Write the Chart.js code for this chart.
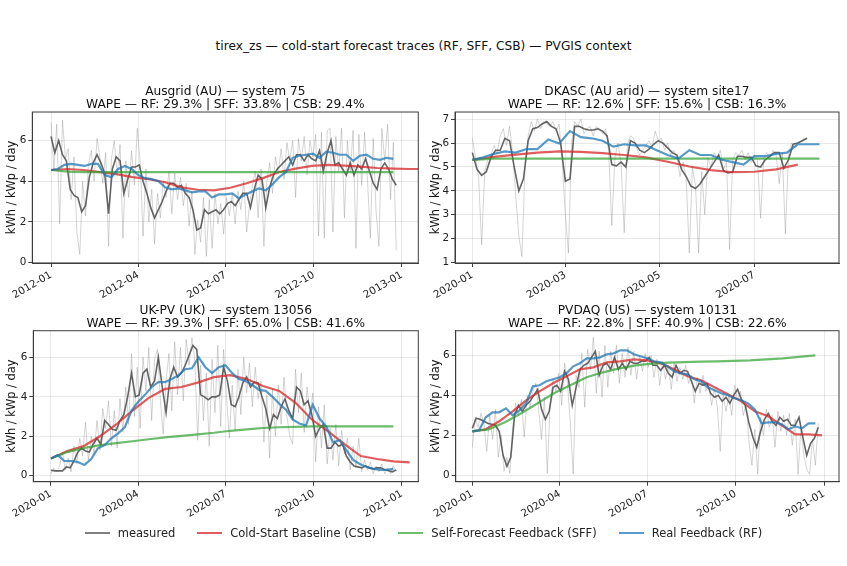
<!DOCTYPE html>
<html>
<head>
<meta charset="utf-8">
<script src="https://cdn.jsdelivr.net/npm/chart.js@4.4.1/dist/chart.umd.min.js"></script>
<style>
  body { margin: 0; background: #fff; font-family: "DejaVu Sans", sans-serif; }
  #page { position: relative; width: 847px; height: 566px; overflow: hidden; }
  canvas { position: absolute; }
  #suptitle { position: absolute; left: 0; top: 39px; width: 847px; text-align: center; font-size: 12.2px; line-height: 14px; color: #111; }
  #legend { position: absolute; left: 0; top: 526px; width: 847px; display: flex; justify-content: center; font-size: 11.5px; line-height: 14px; color: #222; }
  .item { display: flex; align-items: center; margin: 0 11px; }
  .swatch { width: 25px; height: 2px; margin-right: 8px; }
</style>
</head>
<body>
<div id="page">
  <div id="suptitle">tirex_zs — cold-start forecast traces (RF, SFF, CSB) — PVGIS context</div>
  <canvas id="p1" width="424" height="222" style="left:0;top:78px"></canvas>
  <canvas id="p2" width="423" height="222" style="left:424px;top:78px"></canvas>
  <canvas id="p3" width="424" height="229" style="left:0;top:296px"></canvas>
  <canvas id="p4" width="423" height="229" style="left:424px;top:296px"></canvas>
  <div id="legend">
    <div class="item"><span class="swatch" style="background:#7f7f7f"></span>measured</div>
    <div class="item"><span class="swatch" style="background:#e05c5c"></span>Cold-Start Baseline (CSB)</div>
    <div class="item"><span class="swatch" style="background:#6cbd6c"></span>Self-Forecast Feedback (SFF)</div>
    <div class="item"><span class="swatch" style="background:#5a99c9"></span>Real Feedback (RF)</div>
  </div>
</div>
<script>
// x values are days since the first tick (Jan 1); each array is sampled at a fixed day step

// --- Ausgrid (AU), 2012 ---
const ausgridTickDays = [0, 91, 182, 274, 366];
const ausgridTickLabels = ['2012-01', '2012-04', '2012-07', '2012-10', '2013-01'];
const ausgridRaw = [ // every 3 days
  6.9, 4.6, 6.8, 1.9, 7.0, 5.1, 5.6, 3.1, 5.2, 1.5,
  0.4, 4.0, 2.3, 4.8, 5.5, 4.0, 6.1, 5.2, 3.9, 5.4,
  0.8, 5.1, 6.0, 4.3, 5.8, 1.2, 5.0, 3.2, 5.5, 3.8,
  6.6, 4.9, 1.3, 4.6, 2.0, 3.6, 0.9, 3.4, 2.2, 4.0,
  3.2, 4.5, 2.4, 4.4, 3.1, 4.2, 2.8, 3.9, 1.8, 3.5,
  0.4, 2.1, 1.0, 3.2, 0.3, 3.1, 0.7, 3.4, 1.9, 2.9,
  1.4, 3.2, 2.3, 3.4, 1.9, 3.5, 2.6, 4.0, 1.5, 2.8,
  3.8, 4.5, 2.2, 4.6, 0.8, 3.9, 4.9, 3.4, 5.2, 4.4,
  5.6, 4.1, 5.9, 5.0, 6.0, 3.2, 6.1, 5.0, 6.2, 4.3,
  6.0, 5.2, 6.3, 1.3, 6.4, 1.2, 6.5, 6.6, 1.5, 6.2,
  4.5, 6.6, 2.2, 6.0, 4.4, 6.5, 0.7, 6.3, 3.8, 6.4,
  4.1, 1.2, 6.1, 2.5, 0.8, 6.6, 5.0, 6.8, 3.1, 5.9,
  0.6
];
const ausgridMeasured = [ // every 4 days
  6.2, 5.4, 6.0, 5.3, 5.0, 3.6, 3.3, 3.2, 2.5, 2.8,
  4.2, 4.9, 5.3, 4.9, 4.4, 2.4, 4.6, 5.2, 5.0, 3.4,
  4.1, 4.7, 4.7, 4.8, 4.0, 3.4, 2.7, 2.2, 2.6, 3.0,
  3.5, 3.9, 3.9, 3.7, 3.8, 3.4, 3.2, 2.6, 1.6, 1.7,
  2.6, 2.4, 2.5, 2.6, 2.4, 2.6, 2.9, 3.0, 2.8, 3.1,
  3.4, 3.4, 2.7, 3.6, 4.3, 4.1, 2.7, 3.7, 4.3, 4.6,
  4.8, 5.0, 5.2, 4.8, 5.3, 5.3, 5.0, 5.3, 5.1, 5.0,
  5.5, 4.5, 5.4, 6.0, 4.8, 4.9, 4.6, 4.3, 4.9, 4.3,
  4.8, 4.6, 5.1, 4.5, 3.9, 3.6, 4.6, 4.9, 4.6, 4.1,
  3.8
];
const ausgridRF = [ // every 7 days
  4.55, 4.6, 4.8, 4.85, 4.8, 4.75, 4.85, 4.85, 4.3, 4.2,
  4.6, 4.75, 4.6, 4.3, 4.15, 4.1, 4.0, 3.7, 3.6, 3.65,
  3.55, 3.45, 3.5, 3.5, 3.2, 3.35, 3.35, 3.4, 3.15, 3.35,
  3.5, 3.65, 3.55, 3.85, 4.2, 4.45, 5.15, 5.25, 5.3, 5.35,
  5.15, 5.45, 5.4, 5.3, 5.3, 5.0, 5.25, 5.3, 5.1, 5.05,
  5.15, 5.1
];
const ausgridCSB = [ // every 17 days
  4.55, 4.6, 4.55, 4.45, 4.35, 4.2, 4.1, 3.95, 3.7, 3.58,
  3.55, 3.68, 3.9, 4.15, 4.45, 4.62, 4.75, 4.8, 4.77, 4.72,
  4.65, 4.62, 4.6, 4.6
];
const ausgridSFF = [ // every 17 days
  4.55, 4.47, 4.45, 4.45, 4.45, 4.45, 4.45, 4.45, 4.45, 4.45,
  4.45, 4.45, 4.45, 4.45, 4.45, 4.45, 4.45, 4.45, 4.45, 4.45,
  4.45, 4.45
];

// --- DKASC (AU arid), 2020 ---
const dkascTickDays = [0, 60, 121, 182];
const dkascTickLabels = ['2020-01', '2020-03', '2020-05', '2020-07'];
const dkascRaw = [ // every 2 days
  6.2, 5.4, 4.6, 1.75, 4.8, 5.3, 5.5, 5.9, 5.6, 6.3,
  6.6, 5.9, 6.7, 5.6, 3.8, 2.1, 1.25, 5.0, 6.3, 6.9,
  6.5, 7.0, 6.6, 6.9, 6.8, 6.7, 6.9, 6.5, 6.8, 5.2,
  3.0, 1.4, 6.0, 6.9, 6.7, 7.0, 6.4, 6.6, 6.7, 6.3,
  6.7, 6.6, 6.4, 6.6, 5.6, 2.55, 5.4, 6.0, 5.1, 2.25,
  5.9, 6.3, 6.2, 5.8, 5.5, 5.7, 5.9, 6.1, 5.8, 6.5,
  6.1, 6.2, 5.7, 6.0, 5.5, 5.7, 5.4, 4.6, 5.2, 4.5,
  1.4, 5.0, 4.2, 1.4, 4.8, 3.0, 5.4, 5.0, 5.6, 5.4,
  5.7, 4.9, 5.2, 1.55, 5.3, 5.6, 5.5, 5.7, 5.3, 5.6,
  5.2, 5.5, 5.3, 2.85, 5.4, 5.6, 5.3, 5.7, 5.5, 4.3,
  5.6, 2.2, 5.5, 6.0, 5.8, 6.0, 6.1, 6.2, 6.2
];
const dkascMeasured = [ // every 3 days
  5.6, 4.9, 4.65, 4.8, 5.4, 5.7, 5.7, 6.2, 6.1, 5.0,
  4.0, 4.5, 6.1, 6.6, 6.65, 6.8, 6.9, 6.7, 6.6, 6.0,
  4.4, 4.5, 6.7, 6.7, 6.6, 6.55, 6.55, 6.6, 6.5, 6.3,
  5.1, 5.05, 5.2, 5.0, 6.1, 6.0, 5.7, 5.6, 5.75, 5.95,
  6.1, 6.0, 5.8, 5.6, 5.5, 4.9, 4.6, 4.2, 4.1, 4.3,
  4.6, 4.9, 5.2, 5.5, 4.85, 4.75, 4.8, 5.45, 5.45, 5.4,
  5.4, 5.05, 5.0, 5.3, 5.45, 5.6, 5.6, 4.95, 5.3, 5.95,
  6.0, 6.1, 6.2
];
const dkascRF = [ // every 7 days
  5.3, 5.4, 5.55, 5.65, 5.6, 5.75, 5.75, 6.15, 5.98, 6.5,
  6.25, 6.2, 6.1, 5.85, 5.95, 5.9, 5.9, 5.7, 5.5, 5.35,
  5.7, 5.5, 5.5, 5.3, 5.2, 5.1, 5.45, 5.45, 5.55, 5.6,
  5.95, 5.95, 5.95
];
const dkascCSB = [ // every 14 days
  5.3, 5.42, 5.52, 5.6, 5.65, 5.63, 5.58, 5.5, 5.4, 5.22,
  5.02, 4.87, 4.78, 4.8, 4.9, 5.1
];
const dkascSFF = [ // every 14 days
  5.3, 5.35, 5.35, 5.35, 5.35, 5.35, 5.35, 5.35, 5.35, 5.35,
  5.35, 5.35, 5.35, 5.35, 5.35, 5.35, 5.35
];

// --- UK-PV (UK), 2020 ---
const ukTickDays = [0, 91, 182, 274, 366];
const ukTickLabels = ['2020-01', '2020-04', '2020-07', '2020-10', '2021-01'];
const ukRaw = [ // every 3 days
  0.1, 0.4, 0.2, 0.5, 1.2, 0.3, 0.9, 0.2, 1.5, 0.6,
  1.9, 1.0, 2.7, 0.8, 2.0, 1.1, 2.8, 1.3, 3.4, 2.4,
  3.8, 1.5, 3.3, 1.4, 3.9, 2.2, 4.5, 2.6, 6.2, 3.0,
  5.5, 2.4, 6.0, 4.3, 6.5, 2.8, 5.9, 6.4, 3.9, 2.1,
  4.8, 6.2, 3.3, 6.8, 4.1, 6.5, 3.8, 6.9, 5.6, 7.0,
  5.8, 1.8, 5.6, 2.8, 5.2, 1.5, 5.9, 3.2, 6.6, 2.5,
  6.4, 4.0, 1.9, 4.6, 2.3, 5.4, 3.1, 6.0, 4.2, 5.7,
  3.5, 5.5, 3.9, 4.8, 1.7, 4.1, 0.9, 4.4, 2.0, 4.6,
  2.6, 5.0, 3.0, 2.0, 1.6, 5.4, 3.2, 5.2, 2.2, 4.5,
  3.0, 4.2, 0.7, 3.5, 1.4, 3.6, 0.6, 2.4, 0.8, 2.6,
  0.5, 2.3, 1.1, 1.9, 0.3, 1.5, 0.4, 1.9, 0.2, 0.8,
  0.3, 0.7, 0.1, 0.5, 0.2, 0.6, 0.1, 0.4, 0.1, 0.5,
  0.2
];
const ukMeasured = [ // every 4 days
  0.28, 0.25, 0.25, 0.25, 0.45, 0.4, 0.75, 1.2, 1.4, 1.25,
  1.2, 1.6, 1.9, 1.6, 2.8, 2.6, 2.35, 2.3, 2.8, 3.1,
  4.0, 5.2, 4.0, 4.1, 5.2, 5.4, 4.5, 4.8, 6.0, 4.5,
  3.2, 4.9, 5.5, 5.0, 5.2, 5.6, 6.1, 6.6, 6.4, 4.1,
  4.0, 3.85, 4.0, 4.0, 4.1, 5.5, 4.8, 3.6, 3.5, 4.0,
  4.7, 5.0, 4.5, 4.75, 4.7, 4.0, 3.4, 2.4, 3.1, 2.9,
  3.5, 3.9, 3.3, 2.9, 4.5, 4.3, 3.6, 3.8, 3.1, 2.0,
  2.4, 2.6, 1.4, 1.4, 1.7, 1.5, 1.6, 1.0, 0.7, 0.5,
  0.45, 0.4, 0.5, 0.4, 0.35, 0.4, 0.4, 0.3, 0.25, 0.2,
  0.3
];
const ukRF = [ // every 7 days
  0.88, 1.05, 0.75, 0.75, 0.7, 0.55, 0.85, 1.4, 1.55, 1.9,
  2.15, 2.45, 3.3, 3.75, 4.1, 4.5, 4.75, 4.75, 4.9, 5.1,
  5.4, 5.45, 6.0, 5.5, 5.2, 5.5, 5.6, 5.2, 4.9, 4.8,
  4.6, 4.35, 4.3, 4.0, 3.65, 3.35, 2.85, 2.65, 2.55, 3.6,
  2.9, 2.5, 1.7, 1.8, 1.3, 0.8, 0.6, 0.45, 0.35, 0.3,
  0.3, 0.35
];
const ukCSB = [ // every 17 days
  0.88, 1.25, 1.5, 2.0, 2.6, 3.3, 3.95, 4.4, 4.5, 4.72,
  5.0, 5.1, 4.9, 4.55, 4.3, 3.7, 2.85, 2.25, 1.6, 1.0,
  0.85, 0.73, 0.68
];
const ukSFF = [ // every 17 days
  0.88, 1.2, 1.4, 1.55, 1.65, 1.75, 1.85, 1.95, 2.02, 2.1,
  2.18, 2.28, 2.35, 2.42, 2.46, 2.48, 2.5, 2.5, 2.5, 2.5,
  2.5, 2.5
];

// --- PVDAQ (US), 2020 ---
const pvdaqTickDays = [0, 91, 182, 274, 366];
const pvdaqTickLabels = ['2020-01', '2020-04', '2020-07', '2020-10', '2021-01'];
const pvdaqRaw = [ // every 3 days
  1.4, 2.9, 2.4, 3.1, 2.6, 1.2, 3.0, 1.8, 3.3, 0.9,
  2.0, 0.2, 0.9, 0.1, 2.4, 3.6, 3.0, 3.8, 1.9, 4.0,
  3.4, 4.2, 4.6, 3.3, 1.8, 3.9, 0.1, 3.6, 4.8, 4.2,
  5.1, 3.5, 5.6, 4.6, 2.6, 0.05, 5.0, 4.4, 6.1, 3.4,
  6.3, 5.3, 6.9, 4.1, 6.2, 3.9, 6.5, 4.4, 6.2, 5.1,
  6.5, 4.6, 6.1, 4.9, 6.4, 5.0, 6.2, 4.8, 6.0, 5.2,
  6.1, 5.4, 6.0, 4.9, 5.8, 4.5, 5.7, 4.8, 5.5, 4.3,
  5.6, 4.7, 5.4, 4.8, 5.5, 4.6, 5.0, 3.6, 4.9, 4.1,
  5.0, 4.2, 4.6, 3.5, 4.3, 3.4, 1.2, 4.1, 3.2, 4.0,
  3.0, 4.5, 3.8, 4.2, 3.0, 3.6, 1.6, 0.5, 2.3, 0.05,
  2.9, 2.0, 3.3, 2.4, 3.0, 1.4, 3.2, 2.2, 3.0, 2.0,
  3.1, 1.5, 2.8, 0.05, 2.4, 1.0, 0.3, 0.05, 1.8, 0.5,
  2.6
];
const pvdaqMeasured = [ // every 4 days
  2.35, 2.85, 2.8, 2.7, 2.6, 2.55, 2.5, 2.2, 1.0, 0.45,
  0.9, 3.0, 3.5, 3.2, 3.5, 3.7, 4.0, 4.3, 3.3, 2.8,
  3.2, 4.4, 4.5, 4.2, 5.2, 4.8, 3.5, 4.4, 5.3, 5.5,
  5.6, 5.9, 6.2, 5.0, 5.5, 5.6, 5.3, 5.9, 5.3, 5.6,
  5.3, 5.7, 5.6, 5.6, 5.7, 5.7, 5.9, 5.5, 5.5, 5.25,
  5.5, 5.1, 4.9, 5.5, 5.1, 5.25, 5.2, 4.7, 4.2, 4.6,
  4.5, 4.6, 4.1, 3.9, 4.0, 3.7, 3.9, 3.6, 4.0, 4.3,
  3.8, 3.5, 2.6, 1.9, 1.4, 2.2, 2.8, 3.1, 2.7, 2.5,
  2.9, 2.7, 2.8, 2.5, 2.5, 2.9, 1.9, 1.0, 1.6, 1.85,
  2.4
];
const pvdaqRF = [ // every 7 days
  2.2, 2.25, 2.9, 3.15, 3.15, 3.35, 3.0, 3.25, 3.6, 4.45,
  4.5, 4.7, 4.8, 4.9, 5.1, 5.45, 5.6, 5.85, 5.85, 5.9,
  6.05, 6.1, 6.25, 6.25, 6.05, 5.95, 5.85, 5.7, 5.65, 5.45,
  5.2, 5.1, 5.05, 4.8, 4.7, 4.4, 4.25, 4.1, 4.0, 3.85,
  3.75, 3.6, 3.3, 2.6, 2.65, 2.65, 2.55, 2.3, 2.45, 2.35,
  2.6, 2.6
];
const pvdaqCSB = [ // every 14 days
  2.2, 2.3, 2.7, 3.2, 3.75, 4.2, 4.6, 4.95, 5.3, 5.4,
  5.65, 5.7, 5.8, 5.75, 5.6, 5.3, 4.95, 4.75, 4.4, 4.05,
  3.7, 3.2, 2.95, 2.5, 2.05, 2.05, 2.0
];
const pvdaqSFF = [ // every 17 days
  2.2, 2.3, 2.65, 3.1, 3.6, 4.1, 4.5, 4.9, 5.15, 5.35,
  5.5, 5.58, 5.63, 5.66, 5.68, 5.7, 5.72, 5.75, 5.8, 5.85,
  5.92, 6.0
];

const FONT = '"DejaVu Sans", sans-serif';

function pts(values, step) {
  return values.map((v, i) => ({ x: i * step, y: v }));
}

// matplotlib-style box around the axes
const framePlugin = {
  id: 'frame',
  afterDatasetsDraw(chart) {
    const { ctx, chartArea: a } = chart;
    ctx.save();
    ctx.strokeStyle = '#3c3c3c';
    ctx.lineWidth = 1;
    ctx.strokeRect(a.left, a.top, a.right - a.left, a.bottom - a.top);
    ctx.restore();
  }
};

function makePanel(id, p) {
  const line = (label, data, color, width, order) =>
    ({ label, data, borderColor: color, borderWidth: width, order, pointRadius: 0, tension: 0, fill: false });

  return new Chart(document.getElementById(id), {
    type: 'line',
    data: {
      datasets: [
        line('measured (daily)', pts(p.raw, p.rawStep), 'rgba(140,140,140,0.42)', 0.9, 5),
        line('measured', pts(p.measured, p.measuredStep), 'rgba(75,75,75,0.85)', 1.6, 4),
        line('Cold-Start Baseline (CSB)', pts(p.csb, p.csbStep), 'rgba(214,39,40,0.75)', 2.2, 3),
        line('Self-Forecast Feedback (SFF)', pts(p.sff, p.sffStep), 'rgba(44,160,44,0.7)', 2.2, 2),
        line('Real Feedback (RF)', pts(p.rf, p.rfStep), 'rgba(31,119,180,0.75)', 2.2, 1)
      ]
    },
    options: {
      responsive: false,
      animation: false,
      devicePixelRatio: 1,
      layout: { padding: { left: 0, right: p.padRight, top: 0, bottom: 0 } },
      plugins: {
        legend: { display: false },
        tooltip: { enabled: false },
        title: {
          display: true,
          fullSize: false,
          text: p.title,
          color: '#111',
          font: { family: FONT, size: 12.2, weight: 'normal', lineHeight: 1.05 },
          padding: { top: p.titleTop, bottom: 0.5 }
        }
      },
      scales: {
        x: {
          type: 'linear',
          min: p.xMin,
          max: p.xMax,
          afterBuildTicks: s => { s.ticks = p.tickDays.map(v => ({ value: v })); },
          afterFit: s => { s.height = p.xHeight; },
          ticks: {
            autoSkip: false,
            minRotation: 30,
            maxRotation: 30,
            padding: 2,
            color: '#222',
            font: { family: FONT, size: 10.4 },
            callback: (v, i) => p.tickLabels[i]
          },
          grid: { color: 'rgba(0,0,0,0.09)', tickColor: '#3c3c3c', tickLength: 4 },
          border: { color: '#3c3c3c' }
        },
        y: {
          min: p.yMin,
          max: p.yMax,
          afterBuildTicks: s => { s.ticks = p.yTicks.map(v => ({ value: v })); },
          afterFit: s => { s.width = p.yWidth; },
          ticks: {
            padding: 2,
            color: '#222',
            font: { family: FONT, size: 10.4 },
            callback: v => String(v)
          },
          title: {
            display: true,
            text: 'kWh / kWp / day',
            color: '#111',
            font: { family: FONT, size: 11.4 },
            padding: { top: 4.9, bottom: 0 }
          },
          grid: { color: 'rgba(0,0,0,0.09)', tickColor: '#3c3c3c', tickLength: 4 },
          border: { color: '#3c3c3c' }
        }
      }
    },
    plugins: [framePlugin]
  });
}

makePanel('p1', {
  title: ['Ausgrid (AU) — system 75', 'WAPE — RF: 29.3% | SFF: 33.8% | CSB: 29.4%'],
  raw: ausgridRaw, rawStep: 3, measured: ausgridMeasured, measuredStep: 4,
  rf: ausgridRF, rfStep: 7, csb: ausgridCSB, csbStep: 17, sff: ausgridSFF, sffStep: 17,
  tickDays: ausgridTickDays, tickLabels: ausgridTickLabels, yTicks: [0, 2, 4, 6],
  xMin: -19.5, xMax: 383, yMin: -0.02, yMax: 7.4,
  yWidth: 32.3, xHeight: 37, padRight: 5.7, titleTop: 7.9
});

makePanel('p2', {
  title: ['DKASC (AU arid) — system site17', 'WAPE — RF: 12.6% | SFF: 15.6% | CSB: 16.3%'],
  raw: dkascRaw, rawStep: 2, measured: dkascMeasured, measuredStep: 3,
  rf: dkascRF, rfStep: 7, csb: dkascCSB, csbStep: 14, sff: dkascSFF, sffStep: 14,
  tickDays: dkascTickDays, tickLabels: dkascTickLabels, yTicks: [1, 2, 3, 4, 5, 6, 7],
  xMin: -11.2, xMax: 236.6, yMin: 0.98, yMax: 7.3,
  yWidth: 31, xHeight: 37, padRight: 8, titleTop: 7.9
});

makePanel('p3', {
  title: ['UK-PV (UK) — system 13056', 'WAPE — RF: 39.3% | SFF: 65.0% | CSB: 41.6%'],
  raw: ukRaw, rawStep: 3, measured: ukMeasured, measuredStep: 4,
  rf: ukRF, rfStep: 7, csb: ukCSB, csbStep: 17, sff: ukSFF, sffStep: 17,
  tickDays: ukTickDays, tickLabels: ukTickLabels, yTicks: [0, 2, 4, 6],
  xMin: -18.4, xMax: 383, yMin: -0.3, yMax: 7.35,
  yWidth: 33.3, xHeight: 43.3, padRight: 5.7, titleTop: 8.6
});

makePanel('p4', {
  title: ['PVDAQ (US) — system 10131', 'WAPE — RF: 22.8% | SFF: 40.9% | CSB: 22.6%'],
  raw: pvdaqRaw, rawStep: 3, measured: pvdaqMeasured, measuredStep: 4,
  rf: pvdaqRF, rfStep: 7, csb: pvdaqCSB, csbStep: 14, sff: pvdaqSFF, sffStep: 17,
  tickDays: pvdaqTickDays, tickLabels: pvdaqTickLabels, yTicks: [0, 2, 4, 6],
  xMin: -17.3, xMax: 381.6, yMin: -0.32, yMax: 7.23,
  yWidth: 31.7, xHeight: 43.3, padRight: 8, titleTop: 8.6
});
</script>
</body>
</html>
